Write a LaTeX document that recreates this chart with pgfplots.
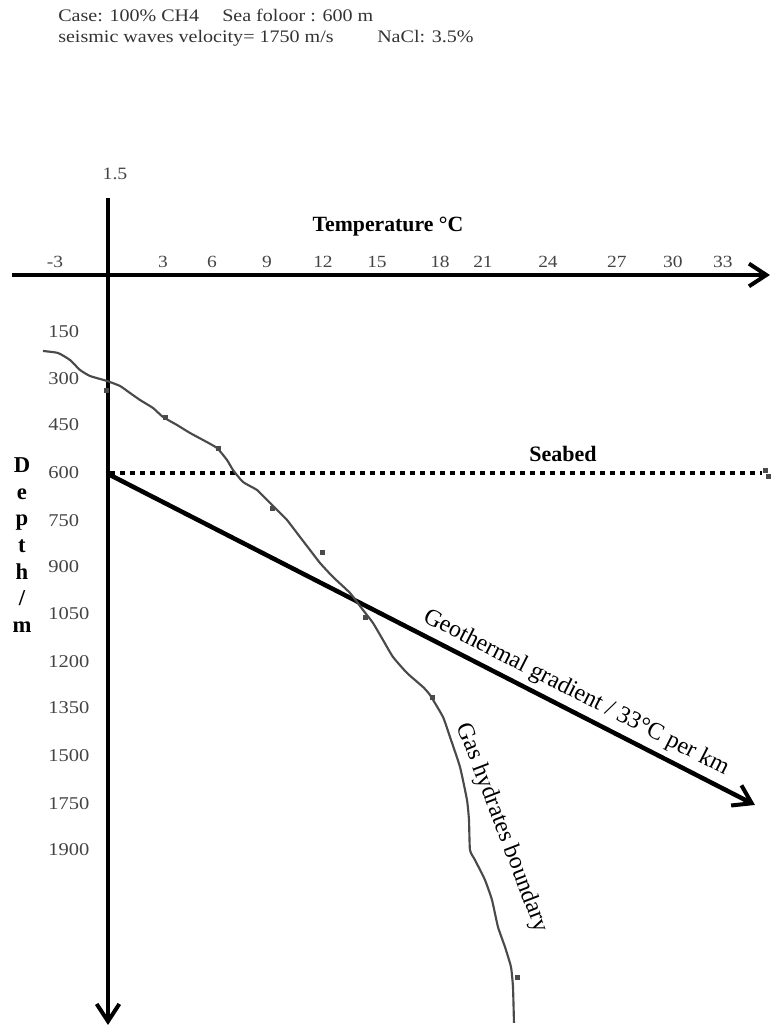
\documentclass[border=0pt]{standalone}
\usepackage{graphicx}
\usepackage{fontspec}
\setmainfont{Liberation Serif}
\usepackage{pgfplots}
\pgfplotsset{compat=1.18}
\usetikzlibrary{arrows.meta}
\newcommand{\sx}[1]{\scalebox{1.14}[1]{#1}}
\definecolor{lbl}{HTML}{444444}
\definecolor{crv}{HTML}{4A4A4A}
\begin{document}
\begin{tikzpicture}
\begin{axis}[
  width=581.25pt, height=771pt, scale only axis,
  xmin=-108, xmax=667, ymin=-275, ymax=753, y dir=reverse,
  axis lines=middle, axis line style={draw=none},
  major tick length=0pt, clip=false,
  xtick={-53,55,104,159,215,269,332,375,440,509,565,615},
  xticklabels={\sx{-3},\sx{3},\sx{6},\sx{9},\sx{12},\sx{15},\sx{18},\sx{21},\sx{24},\sx{27},\sx{30},\sx{33}},
  ytick={57,104,150,198,246,292,339,387,433,481,529,575},
  yticklabels={\sx{150},\sx{300},\sx{450},\sx{600},\sx{750},\sx{900},\sx{1050},\sx{1200},\sx{1350},\sx{1500},\sx{1750},\sx{1900}},
  xticklabel style={anchor=base, yshift=5.5pt, inner sep=0pt, text=lbl, font=\fontsize{12.8}{14}\selectfont},
  yticklabel style={anchor=west, xshift=-45pt, inner sep=0pt, text=lbl, font=\fontsize{13.5}{15}\selectfont},
]
% bounding box
\addplot[draw=none] coordinates {(-108,-275) (667,753)};
% axes
\addplot[line width=3.2pt, -{Straight Barb[length=13pt,width=17pt,line width=3pt]}] coordinates {(-96,0) (662,0)};
\addplot[line width=3.2pt, -{Straight Barb[length=13pt,width=17pt,line width=3pt]}] coordinates {(0,-77) (0,750)};
% seabed
\addplot[line width=3.4pt, dash pattern=on 3.6pt off 3.9pt] coordinates {(2,198) (654,198)};
% geothermal gradient
\addplot[line width=3.4pt, -{Straight Barb[length=13pt,width=17pt,line width=3pt]}] coordinates {(2,200) (647,530)};
% gas hydrates boundary
\addplot[line width=1.6pt, crv, smooth, tension=0.3] coordinates {
(-65,76) (-50,78) (-38,85) (-28,95) (-18,101) (-1,106) (12,111) (22,118) (32,125)
(45,133) (55,142) (69,150) (82,158) (95,165) (109,173) (119,185) (125,195) (135,207)
(149,215) (159,225) (169,235) (179,245) (192,262) (202,275) (212,288) (225,302)
(242,318) (255,335) (265,348) (275,365) (285,382) (299,398) (315,412) (322,420)
(335,442) (342,462) (352,492) (359,525) (361,545) (362,575) (367,585) (377,605)
(384,625) (390,652) (397,672) (403,692) (405,712) (406,748)};
% small marks
\addplot[only marks, mark=square*, mark size=1.4pt, crv] coordinates {
(-2,115) (57,142) (110,173) (164,233) (214,277) (257,342) (324,422) (409,702) (657,195) (660,201)};
% texts
\node[anchor=base west, inner sep=0pt, text=black!80, font=\fontsize{13.2}{15}\selectfont] at (axis cs:-50,-253) {\sx{Case: 100\% CH4}};
\node[anchor=base west, inner sep=0pt, text=black!80, font=\fontsize{13.2}{15}\selectfont] at (axis cs:114,-253) {\sx{Sea foloor : 600 m}};
\node[anchor=base west, inner sep=0pt, text=black!80, font=\fontsize{13.2}{15}\selectfont] at (axis cs:-50,-232) {\sx{seismic waves velocity= 1750 m/s}};
\node[anchor=base west, inner sep=0pt, text=black!80, font=\fontsize{13.2}{15}\selectfont] at (axis cs:269,-232) {\sx{NaCl: 3.5\%}};
\node[anchor=base, inner sep=0pt, text=lbl, font=\fontsize{13}{15}\selectfont] at (axis cs:7,-95) {\sx{1.5}};
\node[anchor=base, inner sep=0pt, font=\bfseries\fontsize{16.3}{18}\selectfont] at (axis cs:280,-43) {Temperature °C};
\node[anchor=base, inner sep=0pt, font=\bfseries\fontsize{16.5}{18}\selectfont] at (axis cs:455,187) {Seabed};
\node[anchor=center, inner sep=0pt, align=center, font=\bfseries\fontsize{17}{20}\selectfont] at (axis cs:-86,270) {D\\e\\p\\t\\h\\/\\m};
\node[anchor=south, rotate=-27, inner sep=5pt, font=\fontsize{18}{20}\selectfont] at (axis cs:460,434) {Geothermal gradient / 33°C per km};
\node[anchor=center, rotate=-69, inner sep=0pt, font=\fontsize{18}{20}\selectfont] at (axis cs:394,553) {Gas hydrates boundary};
\end{axis}
\end{tikzpicture}
\end{document}
